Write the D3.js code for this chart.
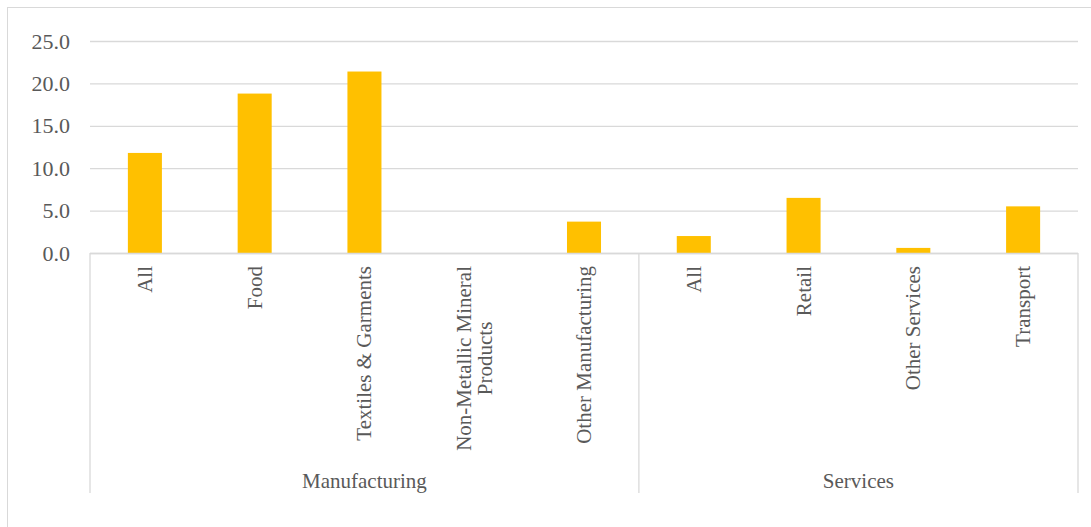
<!DOCTYPE html>
<html>
<head>
<meta charset="utf-8">
<script src="https://cdn.jsdelivr.net/npm/d3@7"></script>
<style>
    body { margin: 0; background: #fff; }
    text { font-family: "Liberation Serif", "Times New Roman", serif; fill: #595959; }
</style>
</head>
<body>
<svg id="chart"></svg>
<script>
var categories = ["All", "Food", "Textiles & Garments", "Non-Metallic Mineral Products", "Other Manufacturing",
    "All", "Retail", "Other Services", "Transport"];
var categoryGroup = ["Manufacturing", "Manufacturing", "Manufacturing", "Manufacturing", "Manufacturing",
    "Services", "Services", "Services", "Services"];
var groups = ["Manufacturing", "Services"];
var values = [11.8, 18.8, 21.4, 0, 3.7, 2.0, 6.5, 0.6, 5.5];
var yTicks = [0, 5, 10, 15, 20, 25];

var width = 1091;
var height = 527;
var plotLeft = 90, plotRight = 1078, plotTop = 41, plotBottom = 253;
var labelTop = 266;
var sepBottom = 493;

var svg = d3.select("#chart")
    .attr("width", width)
    .attr("height", height);

// outer chart border (cut off at right/bottom in the original)
svg.append("rect")
    .attr("x", 7.5)
    .attr("y", 7.5)
    .attr("width", 1100)
    .attr("height", 540)
    .attr("fill", "none")
    .attr("stroke", "#d9d9d9");

var idx = d3.range(categories.length);

var x = d3.scaleBand()
    .domain(idx)
    .range([plotLeft, plotRight])
    .padding(0);

var y = d3.scaleLinear()
    .domain([0, 25])
    .range([plotBottom, plotTop]);

var yAxis = svg.append("g")
    .attr("transform", "translate(" + plotLeft + ",0)")
    .call(d3.axisLeft(y)
        .tickValues(yTicks)
        .tickFormat(d3.format(".1f"))
        .tickSize(-(plotRight - plotLeft))
        .tickPadding(20));

yAxis.select(".domain").remove();
yAxis.selectAll(".tick line")
    .attr("stroke", "#d9d9d9")
    .attr("stroke-width", 1.3);
yAxis.selectAll(".tick text")
    .attr("font-size", "22px")
    .attr("font-family", "Liberation Serif")
    .attr("fill", "#595959");

var barWidth = x.bandwidth() * 0.31;

svg.selectAll(".bar")
    .data(idx)
    .enter()
    .append("rect")
    .attr("class", "bar")
    .attr("x", function (i) {
        return x(i) + (x.bandwidth() - barWidth) / 2;
    })
    .attr("y", function (i) {
        return y(values[i]);
    })
    .attr("width", barWidth)
    .attr("height", function (i) {
        return y(0) - y(values[i]);
    })
    .attr("fill", "#ffc000");

// x axis line
svg.append("line")
    .attr("x1", plotLeft)
    .attr("x2", plotRight)
    .attr("y1", plotBottom + 0.5)
    .attr("y2", plotBottom + 0.5)
    .attr("stroke", "#d9d9d9")
    .attr("stroke-width", 1.3);

// group separators
var seps = [plotLeft];
for (var i = 1; i < categories.length; i++) {
    if (categoryGroup[i] !== categoryGroup[i - 1]) {
        seps.push(x(i));
    }
}
seps.push(plotRight);

svg.selectAll(".sep")
    .data(seps)
    .enter()
    .append("line")
    .attr("class", "sep")
    .attr("x1", function (d) { return d; })
    .attr("x2", function (d) { return d; })
    .attr("y1", plotBottom)
    .attr("y2", sepBottom)
    .attr("stroke", "#d9d9d9")
    .attr("stroke-width", 1.3);

// category labels, rotated, wrapped when too long
var maxLabel = 190;
var lineGap = 21;

idx.forEach(function (i) {
    var cx = x(i) + x.bandwidth() / 2;
    var g = svg.append("g");
    var words = categories[i].split(" ");
    var lines = [];
    var current = [];
    var probe = g.append("text").attr("font-size", "21px");
    for (var w = 0; w < words.length; w++) {
        current.push(words[w]);
        probe.text(current.join(" "));
        if (probe.node().getComputedTextLength() > maxLabel && current.length > 1) {
            current.pop();
            lines.push(current.join(" "));
            current = [words[w]];
        }
    }
    lines.push(current.join(" "));
    probe.remove();

    var texts = [];
    var longest = 0;
    for (var k = 0; k < lines.length; k++) {
        var t = g.append("text")
            .attr("font-size", "21px")
            .attr("text-anchor", "middle")
            .text(lines[k]);
        longest = Math.max(longest, t.node().getComputedTextLength());
        texts.push(t);
    }
    var cy = labelTop + longest / 2;
    var offset0 = -(lines.length - 1) * lineGap / 2;
    for (var k = 0; k < texts.length; k++) {
        var bx = cx + offset0 + k * lineGap + 7;
        texts[k].attr("transform", "translate(" + bx + "," + cy + ") rotate(-90)");
    }
});

// group labels
groups.forEach(function (name) {
    var first = categoryGroup.indexOf(name);
    var last = categoryGroup.lastIndexOf(name);
    var gx = (x(first) + x(last) + x.bandwidth()) / 2;
    svg.append("text")
        .attr("x", gx)
        .attr("y", 488)
        .attr("text-anchor", "middle")
        .attr("font-size", "21px")
        .text(name);
});
</script>
</body>
</html>
